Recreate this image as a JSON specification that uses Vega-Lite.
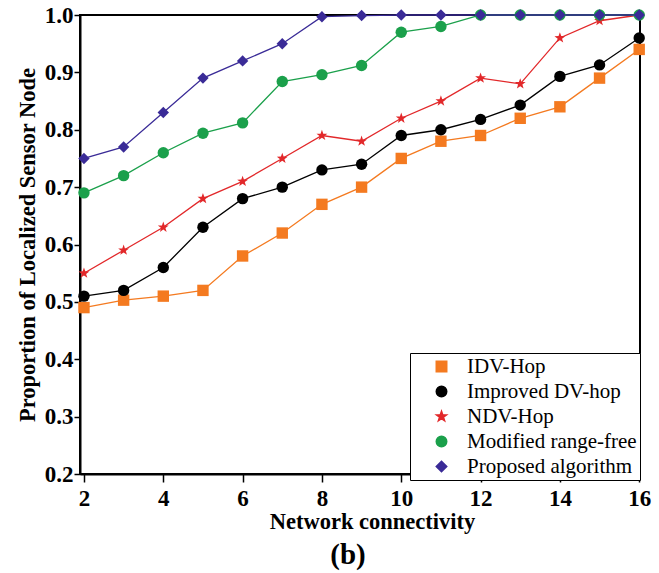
{
  "$schema": "https://vega.github.io/schema/vega-lite/v6.json",
  "width": 560,
  "height": 459,
  "autosize": {"type": "none"},
  "padding": {"left": 80, "top": 15, "right": 19, "bottom": 99},
  "background": "white",
  "title": {"text": "(b)", "orient": "bottom", "font": "Liberation Serif", "fontSize": 29, "fontWeight": "bold", "color": "black", "offset": 8, "dx": -12},
  "config": {
    "view": {"stroke": "black", "strokeWidth": 2},
    "font": "Liberation Serif",
    "axis": {"labelFont": "Liberation Serif", "titleFont": "Liberation Serif", "labelFontWeight": "bold", "titleFontWeight": "bold", "labelColor": "black", "titleColor": "black", "domainColor": "black", "tickColor": "black", "domainWidth": 2, "tickWidth": 1.5, "grid": false}
  },
  "data": {"values": [
    {"series": "IDV-Hop", "x": 2, "y": 0.49}, {"series": "IDV-Hop", "x": 3, "y": 0.503}, {"series": "IDV-Hop", "x": 4, "y": 0.51}, {"series": "IDV-Hop", "x": 5, "y": 0.52}, {"series": "IDV-Hop", "x": 6, "y": 0.58}, {"series": "IDV-Hop", "x": 7, "y": 0.62}, {"series": "IDV-Hop", "x": 8, "y": 0.67}, {"series": "IDV-Hop", "x": 9, "y": 0.70}, {"series": "IDV-Hop", "x": 10, "y": 0.75}, {"series": "IDV-Hop", "x": 11, "y": 0.78}, {"series": "IDV-Hop", "x": 12, "y": 0.79}, {"series": "IDV-Hop", "x": 13, "y": 0.82}, {"series": "IDV-Hop", "x": 14, "y": 0.84}, {"series": "IDV-Hop", "x": 15, "y": 0.89}, {"series": "IDV-Hop", "x": 16, "y": 0.94},
    {"series": "Improved DV-hop", "x": 2, "y": 0.51}, {"series": "Improved DV-hop", "x": 3, "y": 0.52}, {"series": "Improved DV-hop", "x": 4, "y": 0.56}, {"series": "Improved DV-hop", "x": 5, "y": 0.63}, {"series": "Improved DV-hop", "x": 6, "y": 0.68}, {"series": "Improved DV-hop", "x": 7, "y": 0.70}, {"series": "Improved DV-hop", "x": 8, "y": 0.73}, {"series": "Improved DV-hop", "x": 9, "y": 0.74}, {"series": "Improved DV-hop", "x": 10, "y": 0.79}, {"series": "Improved DV-hop", "x": 11, "y": 0.80}, {"series": "Improved DV-hop", "x": 12, "y": 0.818}, {"series": "Improved DV-hop", "x": 13, "y": 0.843}, {"series": "Improved DV-hop", "x": 14, "y": 0.893}, {"series": "Improved DV-hop", "x": 15, "y": 0.913}, {"series": "Improved DV-hop", "x": 16, "y": 0.96},
    {"series": "NDV-Hop", "x": 2, "y": 0.55}, {"series": "NDV-Hop", "x": 3, "y": 0.59}, {"series": "NDV-Hop", "x": 4, "y": 0.63}, {"series": "NDV-Hop", "x": 5, "y": 0.68}, {"series": "NDV-Hop", "x": 6, "y": 0.71}, {"series": "NDV-Hop", "x": 7, "y": 0.75}, {"series": "NDV-Hop", "x": 8, "y": 0.79}, {"series": "NDV-Hop", "x": 9, "y": 0.78}, {"series": "NDV-Hop", "x": 10, "y": 0.82}, {"series": "NDV-Hop", "x": 11, "y": 0.85}, {"series": "NDV-Hop", "x": 12, "y": 0.89}, {"series": "NDV-Hop", "x": 13, "y": 0.88}, {"series": "NDV-Hop", "x": 14, "y": 0.96}, {"series": "NDV-Hop", "x": 15, "y": 0.99}, {"series": "NDV-Hop", "x": 16, "y": 1.0},
    {"series": "Modified range-free", "x": 2, "y": 0.69}, {"series": "Modified range-free", "x": 3, "y": 0.72}, {"series": "Modified range-free", "x": 4, "y": 0.76}, {"series": "Modified range-free", "x": 5, "y": 0.794}, {"series": "Modified range-free", "x": 6, "y": 0.812}, {"series": "Modified range-free", "x": 7, "y": 0.884}, {"series": "Modified range-free", "x": 8, "y": 0.896}, {"series": "Modified range-free", "x": 9, "y": 0.912}, {"series": "Modified range-free", "x": 10, "y": 0.97}, {"series": "Modified range-free", "x": 11, "y": 0.98}, {"series": "Modified range-free", "x": 12, "y": 1.0}, {"series": "Modified range-free", "x": 13, "y": 1.0}, {"series": "Modified range-free", "x": 14, "y": 1.0}, {"series": "Modified range-free", "x": 15, "y": 1.0}, {"series": "Modified range-free", "x": 16, "y": 1.0},
    {"series": "Proposed algorithm", "x": 2, "y": 0.75}, {"series": "Proposed algorithm", "x": 3, "y": 0.77}, {"series": "Proposed algorithm", "x": 4, "y": 0.83}, {"series": "Proposed algorithm", "x": 5, "y": 0.89}, {"series": "Proposed algorithm", "x": 6, "y": 0.92}, {"series": "Proposed algorithm", "x": 7, "y": 0.95}, {"series": "Proposed algorithm", "x": 8, "y": 0.997}, {"series": "Proposed algorithm", "x": 9, "y": 0.999}, {"series": "Proposed algorithm", "x": 10, "y": 1.0}, {"series": "Proposed algorithm", "x": 11, "y": 1.0}, {"series": "Proposed algorithm", "x": 12, "y": 1.0}, {"series": "Proposed algorithm", "x": 13, "y": 1.0}, {"series": "Proposed algorithm", "x": 14, "y": 1.0}, {"series": "Proposed algorithm", "x": 15, "y": 1.0}, {"series": "Proposed algorithm", "x": 16, "y": 1.0}
  ]},
  "encoding": {
    "x": {"field": "x", "type": "quantitative", "scale": {"domain": [1.9, 16.02], "nice": false, "zero": false},
      "axis": {"values": [2, 4, 6, 8, 10, 12, 14, 16], "title": "Network connectivity", "labelFontSize": 23, "titleFontSize": 22.5, "tickSize": 8, "labelPadding": 5, "titlePadding": 0, "labelFlush": false, "titleX": 292}},
    "y": {"field": "y", "type": "quantitative", "scale": {"domain": [0.2, 1.0], "nice": false, "zero": false},
      "axis": {"values": [0.2, 0.3, 0.4, 0.5, 0.6, 0.7, 0.8, 0.9, 1.0], "format": ".1f", "title": "Proportion of Localized Sensor Node", "labelFontSize": 23, "titleFontSize": 22.5, "tickSize": 6, "labelPadding": 1, "titlePadding": 5, "labelFlush": false}},
    "color": {"field": "series", "type": "nominal",
      "scale": {"domain": ["IDV-Hop", "Improved DV-hop", "NDV-Hop", "Modified range-free", "Proposed algorithm"], "range": ["#f47a20", "#000000", "#e2282a", "#1ba04b", "#3a2b97"]},
      "legend": {"orient": "none", "legendX": 330, "legendY": 338, "title": null, "labelFont": "Liberation Serif", "labelFontSize": 21, "labelColor": "black", "strokeColor": "black", "fillColor": "white", "padding": 3, "rowPadding": 3, "symbolSize": 110, "labelOffset": 15, "labelLimit": 300, "symbolOffset": 18}}
  },
  "layer": [
    {"mark": {"type": "line", "strokeWidth": 1.3}},
    {"mark": {"type": "point", "filled": true, "size": 130, "opacity": 1},
      "encoding": {"shape": {"field": "series", "type": "nominal",
        "scale": {"domain": ["IDV-Hop", "Improved DV-hop", "NDV-Hop", "Modified range-free", "Proposed algorithm"],
          "range": ["square", "circle", "M0,-1L0.235,-0.324L0.951,-0.309L0.380,0.124L0.588,0.809L0,0.4L-0.588,0.809L-0.380,0.124L-0.951,-0.309L-0.235,-0.324Z", "circle", "diamond"]}}}}
  ]
}
